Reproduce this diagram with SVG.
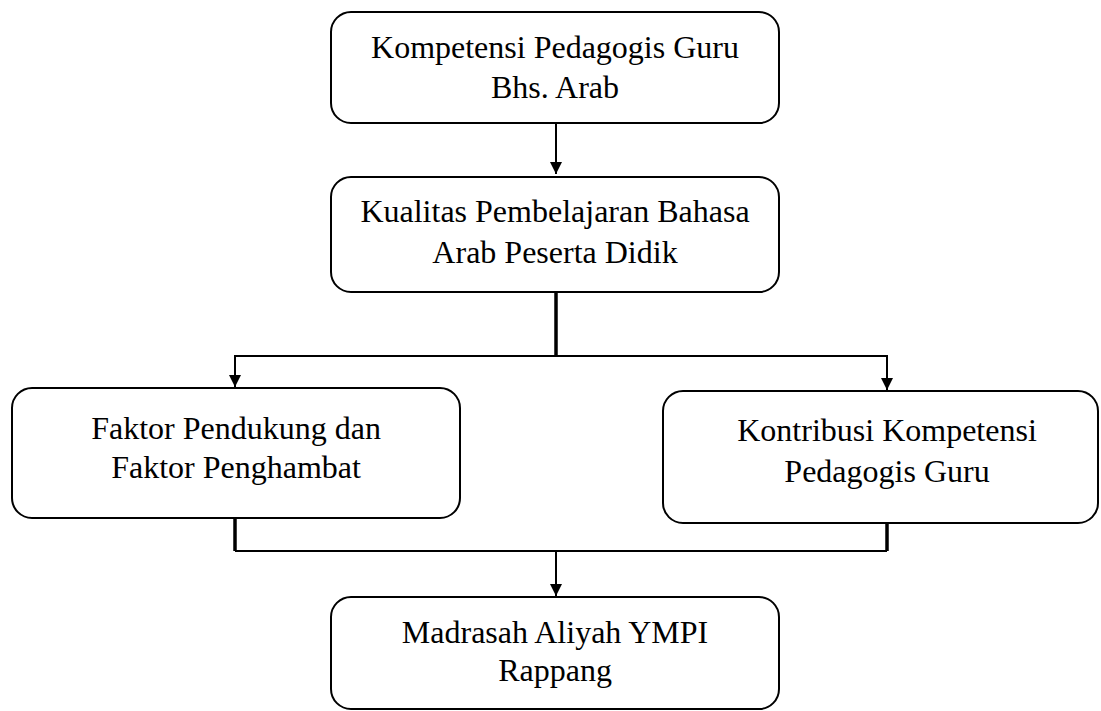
<svg xmlns="http://www.w3.org/2000/svg" width="1101" height="711" viewBox="0 0 1101 711">
<defs>
<marker id="ah" markerWidth="14" markerHeight="14" refX="12" refY="6" orient="auto" markerUnits="userSpaceOnUse">
<path d="M0,0 L12,6 L0,12 Z" fill="#000"/>
</marker>
<style>
.box{fill:#fff;stroke:#000;stroke-width:2}
.thin{stroke:#000;stroke-width:2;fill:none}
.thick{stroke:#000;stroke-width:3.5;fill:none}
</style>
</defs>
<rect width="1101" height="711" fill="#fff"/>
<g id="connectors">
<line class="thin" x1="556" y1="123" x2="556" y2="174" marker-end="url(#ah)"/>
<line class="thick" x1="556" y1="293" x2="556" y2="356"/>
<polyline class="thin" points="235,387 235,356 887,356 887,390"/>
<line class="thin" x1="235" y1="375" x2="235" y2="387" marker-end="url(#ah)"/>
<line class="thin" x1="887" y1="378" x2="887" y2="390" marker-end="url(#ah)"/>
<line class="thick" x1="235" y1="518" x2="235" y2="551"/>
<line class="thick" x1="887" y1="523" x2="887" y2="551"/>
<line class="thin" x1="235" y1="551" x2="887" y2="551"/>
<line class="thin" x1="556" y1="551" x2="556" y2="596" marker-end="url(#ah)"/>
</g>
<g id="n1">
<rect class="box" x="331" y="12" width="448" height="111" rx="20"/>
<text x="555" y="58" font-family="Times New Roman" font-size="32" text-anchor="middle">Kompetensi Pedagogis Guru</text>
<text x="555" y="98" font-family="Times New Roman" font-size="32" text-anchor="middle">Bhs. Arab</text>
</g>
<g id="n2">
<rect class="box" x="331" y="177" width="448" height="115" rx="20"/>
<text x="555" y="222" font-family="Times New Roman" font-size="32" text-anchor="middle">Kualitas Pembelajaran Bahasa</text>
<text x="555" y="263" font-family="Times New Roman" font-size="32" text-anchor="middle">Arab Peserta Didik</text>
</g>
<g id="n3">
<rect class="box" x="12" y="388" width="448" height="130" rx="20"/>
<text x="236" y="439" font-family="Times New Roman" font-size="32" text-anchor="middle">Faktor Pendukung dan</text>
<text x="236" y="478" font-family="Times New Roman" font-size="32" text-anchor="middle">Faktor Penghambat</text>
</g>
<g id="n4">
<rect class="box" x="663" y="391" width="435" height="132" rx="20"/>
<text x="887" y="441" font-family="Times New Roman" font-size="32" text-anchor="middle">Kontribusi Kompetensi</text>
<text x="887" y="482" font-family="Times New Roman" font-size="32" text-anchor="middle">Pedagogis Guru</text>
</g>
<g id="n5">
<rect class="box" x="331" y="597" width="448" height="112" rx="20"/>
<text x="555" y="643" font-family="Times New Roman" font-size="32" text-anchor="middle">Madrasah Aliyah YMPI</text>
<text x="555" y="681" font-family="Times New Roman" font-size="32" text-anchor="middle">Rappang</text>
</g>
</svg>
